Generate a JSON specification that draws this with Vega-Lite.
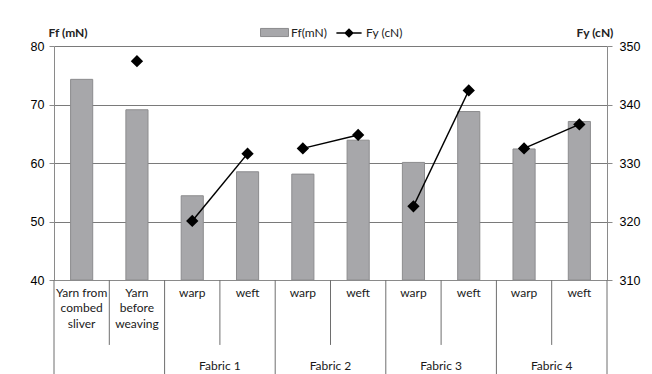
{
  "$schema": "https://vega.github.io/schema/vega-lite/v6.json",
  "width": 553,
  "height": 234,
  "autosize": {"type": "none"},
  "padding": {"left": 54, "top": 46, "right": 45, "bottom": 94},
  "background": "white",
  "config": {"view": {"stroke": null}},
  "data": {
    "values": [
      {"cat": "Yarn from combed sliver", "grp": "Yarns", "Ff": 74.3, "Fy": null},
      {"cat": "Yarn before weaving", "grp": "Yarns", "Ff": 69.1, "Fy": 347.4},
      {"cat": "Fabric 1 warp", "grp": "Fabric 1", "Ff": 54.4, "Fy": 320.1},
      {"cat": "Fabric 1 weft", "grp": "Fabric 1", "Ff": 58.5, "Fy": 331.6},
      {"cat": "Fabric 2 warp", "grp": "Fabric 2", "Ff": 58.1, "Fy": 332.5},
      {"cat": "Fabric 2 weft", "grp": "Fabric 2", "Ff": 63.9, "Fy": 334.8},
      {"cat": "Fabric 3 warp", "grp": "Fabric 3", "Ff": 60.1, "Fy": 322.6},
      {"cat": "Fabric 3 weft", "grp": "Fabric 3", "Ff": 68.8, "Fy": 342.4},
      {"cat": "Fabric 4 warp", "grp": "Fabric 4", "Ff": 62.4, "Fy": 332.5},
      {"cat": "Fabric 4 weft", "grp": "Fabric 4", "Ff": 67.1, "Fy": 336.6}
    ]
  },
  "encoding": {
    "x": {
      "field": "cat", "type": "nominal", "sort": null,
      "scale": {"type": "band", "domain": ["Yarn from combed sliver", "Yarn before weaving", "Fabric 1 warp", "Fabric 1 weft", "Fabric 2 warp", "Fabric 2 weft", "Fabric 3 warp", "Fabric 3 weft", "Fabric 4 warp", "Fabric 4 weft"], "paddingInner": 0, "paddingOuter": 0},
      "axis": {
        "orient": "bottom", "title": null, "labelAngle": 0, "ticks": false,
        "domainColor": "#8a8a8a",
        "labelPadding": 7, "labelBaseline": "top", "labelLineHeight": 15.5,
        "labelFont": "Lato", "labelFontSize": 12, "labelColor": "#1a1a1a",
        "labelOverlap": false, "grid": false,
        "labelExpr": "datum.value == 'Yarn from combed sliver' ? ['Yarn from','combed','sliver'] : datum.value == 'Yarn before weaving' ? ['Yarn','before','weaving'] : slice(datum.value, 9)"
      }
    }
  },
  "layer": [
    {
      "layer": [
        {
          "mark": {"type": "bar", "width": {"band": 0.4}, "stroke": "#8c8c8e", "strokeWidth": 1},
          "encoding": {
            "y": {
              "field": "Ff", "type": "quantitative",
              "scale": {"domain": [40, 80], "zero": false, "nice": false},
              "axis": {
                "orient": "left", "title": "Ff (mN)", "titleAngle": 0, "titleX": 13.5, "titleY": -14,
                "titleAlign": "center", "titleBaseline": "middle", "titleFont": "Lato", "titleFontSize": 12,
                "titleFontWeight": "bold", "titleColor": "#222222",
                "values": [40, 50, 60, 70, 80], "grid": true, "gridColor": "#7a7a7a", "gridWidth": 1,
                "tickSize": 5, "tickColor": "#8a8a8a", "domainColor": "#8a8a8a",
                "labelFont": "Liberation Sans", "labelFontSize": 12.5, "labelColor": "#000000", "labelPadding": 5
              }
            },
            "y2": {"datum": 40},
            "fill": {
              "datum": "Ff(mN)",
              "scale": {"domain": ["Ff(mN)"], "range": ["#a7a7aa"]},
              "legend": {
                "orient": "none", "legendX": 206, "legendY": -28, "title": null,
                "symbolType": "M-1,-0.29H1V0.29H-1Z", "symbolSize": 784,
                "symbolStrokeColor": "#8c8c8e", "symbolStrokeWidth": 1,
                "labelOffset": 2,
                "labelFont": "Lato", "labelFontSize": 12, "labelColor": "#222222"
              }
            }
          }
        },
        {
          "transform": [{"filter": "datum.cat == 'Yarn from combed sliver' || indexof(datum.cat, 'warp') >= 0"}],
          "mark": {"type": "rule", "color": "#6e6e6e", "strokeWidth": 1},
          "encoding": {
            "x": {"field": "cat", "type": "nominal", "bandPosition": 0},
            "y": {"datum": 40},
            "y2": {"datum": 23.9}
          }
        },
        {
          "transform": [{"filter": "datum.cat == 'Fabric 4 weft'"}],
          "mark": {"type": "rule", "color": "#6e6e6e", "strokeWidth": 1},
          "encoding": {
            "x": {"field": "cat", "type": "nominal", "bandPosition": 1},
            "y": {"datum": 40},
            "y2": {"datum": 23.9}
          }
        },
        {
          "transform": [{"filter": "datum.cat == 'Yarn before weaving' || indexof(datum.cat, 'weft') >= 0"}],
          "mark": {"type": "rule", "color": "#6e6e6e", "strokeWidth": 1},
          "encoding": {
            "x": {"field": "cat", "type": "nominal", "bandPosition": 0},
            "y": {"datum": 40},
            "y2": {"datum": 28.9}
          }
        },
        {
          "transform": [{"filter": "indexof(datum.cat, 'weft') >= 0"}],
          "mark": {"type": "text", "baseline": "top", "align": "center", "font": "Lato", "fontSize": 12, "color": "#1a1a1a"},
          "encoding": {
            "x": {"field": "cat", "type": "nominal", "bandPosition": 0},
            "y": {"datum": 26.2},
            "text": {"field": "grp"}
          }
        }
      ]
    },
    {
      "mark": {"type": "line", "strokeWidth": 1.5, "point": {"shape": "diamond", "size": 90, "filled": true, "fill": "#000000"}},
      "encoding": {
        "y": {
          "field": "Fy", "type": "quantitative",
          "scale": {"domain": [310, 350], "zero": false, "nice": false},
          "axis": {
            "orient": "right", "title": "Fy (cN)", "titleAngle": 0, "titleX": -12.5, "titleY": -14,
            "titleAlign": "center", "titleBaseline": "middle", "titleFont": "Lato", "titleFontSize": 12,
            "titleFontWeight": "bold", "titleColor": "#222222",
            "values": [310, 320, 330, 340, 350], "grid": false,
            "tickSize": 5, "tickColor": "#8a8a8a", "domainColor": "#8a8a8a",
            "labelFont": "Liberation Sans", "labelFontSize": 12.5, "labelColor": "#000000", "labelPadding": 7
          }
        },
        "detail": {"field": "grp"},
        "stroke": {
          "datum": "Fy (cN)",
          "scale": {"domain": ["Fy (cN)"], "range": ["#000000"]},
          "legend": {
            "orient": "none", "legendX": 280, "legendY": -28, "title": null,
            "symbolType": "M-0.9,0H0.9M-0.27,0L0,-0.27L0.27,0L0,0.27Z", "symbolSize": 784,
            "symbolFillColor": "#000000", "symbolStrokeWidth": 1.5,
            "labelOffset": 2,
            "labelFont": "Lato", "labelFontSize": 12, "labelColor": "#222222"
          }
        }
      }
    }
  ],
  "resolve": {"scale": {"y": "independent"}}
}
